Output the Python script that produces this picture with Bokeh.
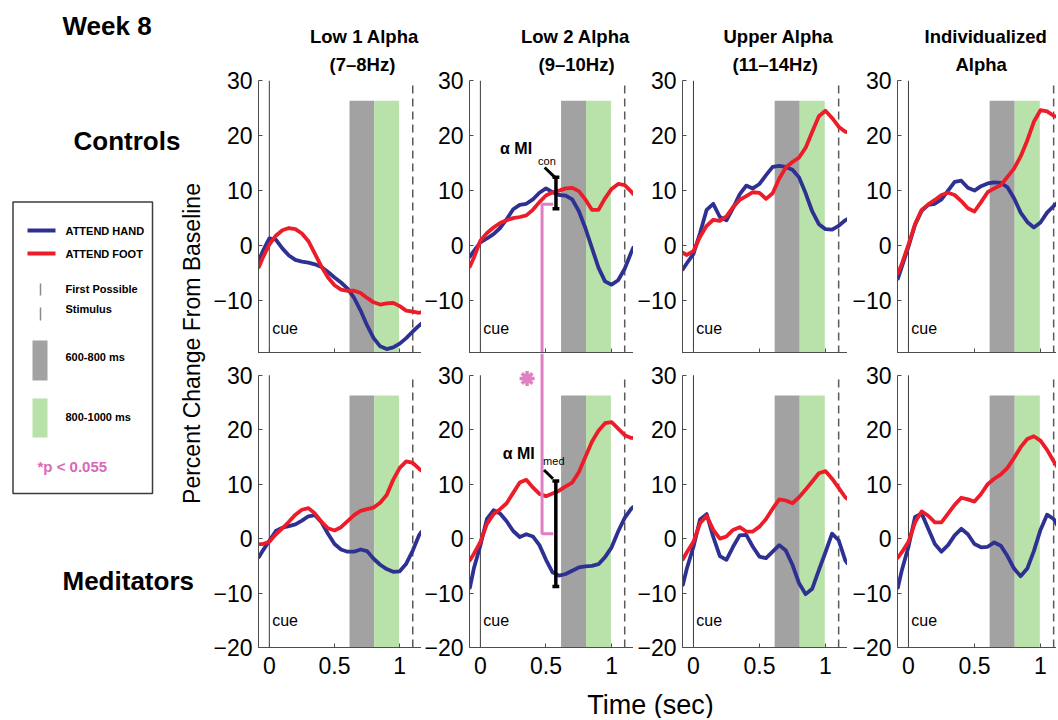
from math import pi
from bokeh.plotting import figure
from bokeh.layouts import row, column
from bokeh.models import Range1d, FixedTicker, Title
from bokeh.core.properties import value
from bokeh.embed import file_html
from bokeh.resources import INLINE

FONT = "Liberation Sans"
BLUE = "#2e3192"
RED = "#ec1c28"
GRAY = "#a2a2a2"
GREEN = "#b9e1aa"
PINK = "#e07fc2"
PINK_TXT = "#d968b6"

# ---------------- data ----------------
time_s = [-0.08, -0.05, 0.00, 0.05, 0.10, 0.15, 0.20, 0.25, 0.30, 0.35, 0.40, 0.45, 0.50,
          0.55, 0.60, 0.65, 0.70, 0.75, 0.80, 0.85, 0.90, 0.95, 1.00, 1.05, 1.10, 1.15, 1.165]

band_names = ["Low 1 Alpha", "Low 2 Alpha", "Upper Alpha", "Individualized"]
band_sub = ["(7\u20138Hz)", "(9\u201310Hz)", "(11\u201314Hz)", "Alpha"]
groups = ["Controls", "Meditators"]

# Controls, ATTEND HAND (blue)
ctrl_hand = [
    [-2.7, -1.0, 1.3, 1.1, -0.5, -1.8, -2.6, -2.9, -3.1, -3.4, -3.9, -4.8, -5.8, -6.7, -7.8, -9.5,
     -11.8, -14.5, -16.8, -18.3, -18.8, -18.5, -17.8, -16.8, -15.6, -14.5, -14.2],
    [-2.0, -1.0, 0.6, 1.3, 2.1, 3.2, 4.8, 6.6, 7.4, 7.6, 8.4, 9.6, 10.4, 9.7, 9.2, 9.1, 8.4, 6.3,
     3.2, -0.4, -4.0, -6.5, -7.1, -6.3, -4.2, -1.2, -0.4],
    [-4.3, -3.2, -1.5, 2.3, 6.5, 7.6, 5.2, 4.6, 6.8, 9.3, 10.9, 10.4, 11.2, 12.8, 14.3, 14.5, 14.3,
     13.8, 12.4, 9.5, 6.2, 3.9, 3.0, 2.9, 3.6, 4.6, 4.8],
    [-6.0, -3.8, -0.2, 3.8, 6.3, 7.4, 7.6, 8.4, 10.0, 11.6, 11.8, 10.5, 10.0, 10.8, 11.3, 11.5,
     11.4, 10.6, 8.6, 6.0, 4.3, 3.3, 4.2, 6.0, 7.2, 8.2, 8.3],
]
# Controls, ATTEND FOOT (red)
ctrl_foot = [
    [-3.9, -2.2, 0.2, 1.8, 2.8, 3.2, 3.0, 2.2, 0.8, -1.5, -3.8, -5.8, -7.2, -8.0, -8.2, -8.2, -8.6,
     -9.5, -10.3, -10.7, -10.5, -10.4, -11.0, -11.8, -12.0, -12.2, -12.1],
    [-3.8, -2.2, 0.9, 2.3, 3.3, 4.1, 4.6, 5.0, 5.2, 5.5, 6.5, 7.9, 9.1, 9.7, 10.0, 10.4, 10.5, 9.9,
     8.4, 6.5, 6.5, 8.6, 10.3, 11.2, 11.0, 9.8, 9.4],
    [-1.3, -1.7, -1.0, 1.6, 3.6, 4.7, 4.5, 5.3, 7.0, 8.3, 9.0, 9.7, 9.6, 8.5, 9.5, 12.2, 14.2, 15.2,
     16.0, 17.8, 20.7, 23.5, 24.5, 23.2, 21.6, 20.7, 20.6],
    [-5.0, -3.3, 0.2, 3.9, 6.5, 7.5, 8.3, 9.2, 9.6, 9.2, 8.1, 6.8, 6.2, 7.9, 9.7, 10.4, 11.0, 12.5,
     14.0, 16.2, 19.1, 22.5, 24.6, 24.4, 23.6, 23.2, 23.0],
]
# Meditators, ATTEND HAND (blue)
med_hand = [
    [-3.4, -2.2, -0.4, 1.4, 2.0, 2.3, 2.6, 3.3, 4.1, 4.3, 3.0, 0.9, -1.0, -2.0, -2.4, -2.4, -2.0,
     -2.3, -3.7, -4.8, -5.6, -6.1, -6.0, -4.6, -2.2, 0.7, 1.2],
    [-9.0, -5.5, -1.2, 3.6, 5.2, 4.6, 3.2, 1.4, 0.3, 0.8, 0.4, -1.2, -3.9, -6.2, -6.8, -6.5, -5.9,
     -5.3, -5.1, -5.0, -4.7, -3.4, -1.6, 1.3, 3.8, 5.5, 5.8],
    [-8.5, -5.5, -1.5, 3.5, 4.5, 0.3, -3.2, -3.9, -1.5, 0.6, 0.7, -1.5, -3.3, -3.6, -2.4, -1.2,
     -2.2, -4.8, -8.2, -10.2, -9.2, -5.8, -2.5, 0.9, -0.3, -4.0, -4.5],
    [-9.0, -5.8, -1.5, 4.0, 4.6, 1.8, -1.0, -2.4, -1.2, 0.6, 1.8, 0.8, -1.0, -1.6, -1.5, -0.7, -1.3,
     -3.2, -5.5, -6.9, -5.5, -2.3, 1.6, 4.4, 3.6, 1.5, 1.2],
]
# Meditators, ATTEND FOOT (red)
med_foot = [
    [-1.0, -1.0, -0.6, 0.8, 1.9, 3.1, 4.4, 5.3, 5.6, 4.6, 3.1, 1.9, 1.5, 2.1, 3.2, 4.3, 5.1, 5.4,
     5.7, 6.6, 8.0, 10.8, 13.0, 14.2, 13.9, 12.8, 12.5],
    [-4.0, -2.8, -0.6, 2.7, 4.5, 5.4, 6.5, 8.4, 10.3, 10.8, 9.4, 8.2, 7.8, 8.3, 8.8, 9.6, 10.3, 12.2,
     15.0, 17.8, 19.8, 21.2, 21.4, 20.2, 19.0, 18.5, 18.5],
    [-3.8, -2.5, -0.6, 2.8, 4.2, 1.6, 0.0, 0.4, 1.6, 2.1, 1.3, 1.3, 2.2, 3.6, 5.5, 7.2, 7.0, 6.5,
     7.6, 9.0, 10.5, 12.0, 12.4, 11.0, 9.3, 7.6, 7.3],
    [-3.5, -2.5, -0.6, 3.0, 5.0, 4.2, 3.0, 3.0, 4.6, 6.2, 7.5, 7.2, 6.8, 8.2, 10.0, 11.0, 11.8, 13.0,
     14.8, 16.8, 18.3, 18.8, 18.0, 16.3, 14.2, 12.3, 12.0],
]

y_ticks_top = [-10, 0, 10, 20, 30]
y_ticks_bottom = [-20, -10, 0, 10, 20, 30]
y_tick_labels = {-20: "\u221220", -10: "\u221210", 0: "0", 10: "10", 20: "20", 30: "30"}
x_ticks = [0, 0.5, 1]
x_tick_labels = {0: "0", 0.5: "0.5", 1: "1"}

win_start = [0.615, 0.805]      # 600-800 ms, 800-1000 ms windows
win_end = [0.805, 0.995]
win_colors = [GRAY, GREEN]
win_top = 26.3
cue_t = 0.0
stim_t = 1.1
cue_label = (0.022, -15.0)

# alpha MI annotations (Low 2 Alpha column)
con_mi = dict(x=0.576, lo=6.7, hi=12.4, lead=(0.49, 14.2, 0.568, 12.4), txt=(0.15, 17.6), sub=(0.44, 15.4))
med_mi = dict(x=0.575, lo=-8.8, hi=10.6, lead=(0.485, 12.6, 0.553, 11.0), txt=(0.17, 15.6), sub=(0.478, 14.2))
pink_x = [0.47, 0.555]
pink_con_y = 7.5
pink_med_y = 0.9
star_pos = (0.356, 29.4)

# ---------------- layout geometry ----------------
X0 = -0.083
mbl = [46, 47, 49, 50]
frame_w = [165, 165, 165, 159]
x_end = [X0 + w / 132.0 for w in frame_w]
title_off = [51.5, 51.5, 41, 27]       # left offset of first title line within frame
sub_off = [71, 69, 50, 58]             # left offset of second title line
TOP_YLO = -19.6
TOP_H, TOP_MBT = 353, 80
BOT_H, BOT_MBB = 331, 37
BOT_YHI = 34.0
LEFT_W = 210
TOTAL_W = 1056
TOTAL_H = 718


def style_axes(p):
    for ax in (p.xaxis[0], p.yaxis[0]):
        ax.axis_line_color = "#4d4d4d"
        ax.axis_line_width = 1
        ax.major_tick_line_color = "#4d4d4d"
        ax.major_tick_in = 4
        ax.major_tick_out = 0
        ax.minor_tick_line_color = None
        ax.major_label_text_font = FONT
        ax.major_label_text_font_size = "23px"
        ax.major_label_text_color = "black"


def make_panel(ci, top):
    hand = (ctrl_hand if top else med_hand)[ci]
    foot = (ctrl_foot if top else med_foot)[ci]
    ylo = TOP_YLO if top else -20
    yhi = 30 if top else BOT_YHI
    p = figure(width=mbl[ci] + frame_w[ci], height=TOP_H if top else BOT_H, title=None,
               x_range=Range1d(X0, x_end[ci]), y_range=Range1d(ylo, yhi),
               output_backend="svg", toolbar_location=None,
               min_border_left=mbl[ci], min_border_right=0,
               min_border_top=TOP_MBT if top else 0,
               min_border_bottom=0 if top else BOT_MBB,
               background_fill_color="white", border_fill_color="white",
               outline_line_color=None)
    p.grid.visible = False
    style_axes(p)
    ya = p.yaxis[0]
    xa = p.xaxis[0]
    ya.ticker = FixedTicker(ticks=y_ticks_top if top else y_ticks_bottom)
    ya.major_label_overrides = dict(y_tick_labels)
    ya.major_label_standoff = 6
    xa.ticker = FixedTicker(ticks=x_ticks)
    if top:
        xa.fixed_location = TOP_YLO + 0.1
        xa.major_label_text_color = None
    else:
        ya.bounds = (-20, 30)
        xa.major_label_overrides = dict(x_tick_labels)
        xa.major_label_standoff = 9

    # time windows
    p.quad(left=win_start, right=win_end, bottom=ylo, top=win_top,
           fill_color=win_colors, line_color=None)
    # cue and first possible stimulus
    p.segment(x0=[cue_t], y0=[ylo], x1=[cue_t], y1=[30], line_color="#3a3a3a", line_width=1)
    p.segment(x0=[stim_t], y0=[ylo], x1=[stim_t], y1=[30], line_color="#5a5a5a",
              line_width=1.5, line_dash="8 5")
    # curves
    p.line(time_s, hand, line_color=BLUE, line_width=3.8, line_join="round", line_cap="round")
    p.line(time_s, foot, line_color=RED, line_width=3.8, line_join="round", line_cap="round")
    p.text(x=[cue_label[0]], y=[cue_label[1]], text=["cue"], text_font=value(FONT),
           text_font_size="16px", text_baseline="middle", text_align="left", text_color="black")

    if ci == 1:
        mi = con_mi if top else med_mi
        if top:
            p.line(x=[pink_x[1], pink_x[0], pink_x[0]], y=[pink_con_y, pink_con_y, ylo],
                   line_color=PINK, line_width=3)
        else:
            p.line(x=[pink_x[0], pink_x[0], pink_x[1]], y=[BOT_YHI, pink_med_y, pink_med_y],
                   line_color=PINK, line_width=3)
            p.scatter(x=[star_pos[0]], y=[star_pos[1]], marker="asterisk", size=15,
                      line_color=PINK, line_width=3.5)
        bx, hw = mi["x"], 0.026
        p.segment(x0=[bx, bx - hw, bx - hw], y0=[mi["lo"], mi["lo"], mi["hi"]],
                  x1=[bx, bx + hw, bx + hw], y1=[mi["hi"], mi["lo"], mi["hi"]],
                  line_color="black", line_width=3.5)
        lx0, ly0, lx1, ly1 = mi["lead"]
        p.segment(x0=[lx0], y0=[ly0], x1=[lx1], y1=[ly1], line_color="black", line_width=3)
        p.text(x=[mi["txt"][0]], y=[mi["txt"][1]], text=["\u03b1 MI"], text_font=value(FONT),
               text_font_size="16px", text_font_style="bold", text_baseline="middle",
               text_color="black")
        p.text(x=[mi["sub"][0]], y=[mi["sub"][1]], text=["con" if top else "med"],
               text_font=value(FONT), text_font_size="11px", text_baseline="middle",
               text_color="black")

    if top:
        p.add_layout(Title(text=band_sub[ci], align="left", offset=sub_off[ci],
                           text_font=FONT, text_font_size="18.5px", text_font_style="bold",
                           text_color="black", standoff=11), "above")
        p.add_layout(Title(text=band_names[ci], align="left", offset=title_off[ci],
                           text_font=FONT, text_font_size="18.5px", text_font_style="bold",
                           text_color="black", standoff=0), "above")
    return p


tops = [make_panel(i, True) for i in range(4)]
bots = [make_panel(i, False) for i in range(4)]

# ---------------- left column: labels and legend box ----------------
lf = figure(width=LEFT_W, height=TOTAL_H, x_range=Range1d(0, LEFT_W), y_range=Range1d(TOTAL_H, 0),
            x_axis_type=None, y_axis_type=None, output_backend="svg", toolbar_location=None,
            title=None, min_border=0, outline_line_color=None)
lf.text(x=[62, 73, 62], y=[25, 140, 580], text=["Week 8", groups[0], groups[1]],
        text_font=value(FONT), text_font_size="26px", text_font_style="bold",
        text_baseline="middle", text_align="left", text_color="black")
lf.text(x=[191], y=[343], text=["Percent Change From Baseline"], angle=pi / 2,
        text_font=value(FONT), text_font_size="23px", text_baseline="middle",
        text_align="center", text_color="black")
lf.quad(left=[12.5], right=[152], top=[201.5], bottom=[493], fill_color=None,
        line_color="#3c3c3c", line_width=1.5)
lf.segment(x0=[27, 27], y0=[230, 253], x1=[55, 55], y1=[230, 253],
           line_color=[BLUE, RED], line_width=4)
lf.segment(x0=[40, 40], y0=[283, 307], x1=[40, 40], y1=[295, 320],
           line_color="#8a8a8a", line_width=1.5)
lf.quad(left=[32, 32], right=[47, 47], top=[340, 398], bottom=[380, 437],
        fill_color=[GRAY, GREEN], line_color=None)
lf.text(x=[65] * 6, y=[230, 253, 288, 308, 356, 416],
        text=["ATTEND HAND", "ATTEND FOOT", "First Possible", "Stimulus", "600-800 ms", "800-1000 ms"],
        text_font=value(FONT), text_font_size="11px", text_font_style="bold",
        text_baseline="middle", text_align="left", text_color="black")
lf.text(x=[37], y=[466], text=["*p < 0.055"], text_font=value(FONT), text_font_size="15px",
        text_font_style="bold", text_baseline="middle", text_align="left", text_color=PINK_TXT)

# ---------------- bottom strip: x label ----------------
strip_top = TOP_H + BOT_H
tf = figure(width=TOTAL_W - LEFT_W, height=TOTAL_H - strip_top,
            x_range=Range1d(LEFT_W, TOTAL_W), y_range=Range1d(TOTAL_H, strip_top),
            x_axis_type=None, y_axis_type=None, output_backend="svg", toolbar_location=None,
            title=None, min_border=0, outline_line_color=None)
tf.text(x=[650], y=[704], text=["Time (sec)"], text_font=value(FONT), text_font_size="27px",
        text_baseline="middle", text_align="center", text_color="black")

layout = row(lf, column(row(*tops), row(*bots), tf))

open("out.html", "w").write(file_html(layout, INLINE))
